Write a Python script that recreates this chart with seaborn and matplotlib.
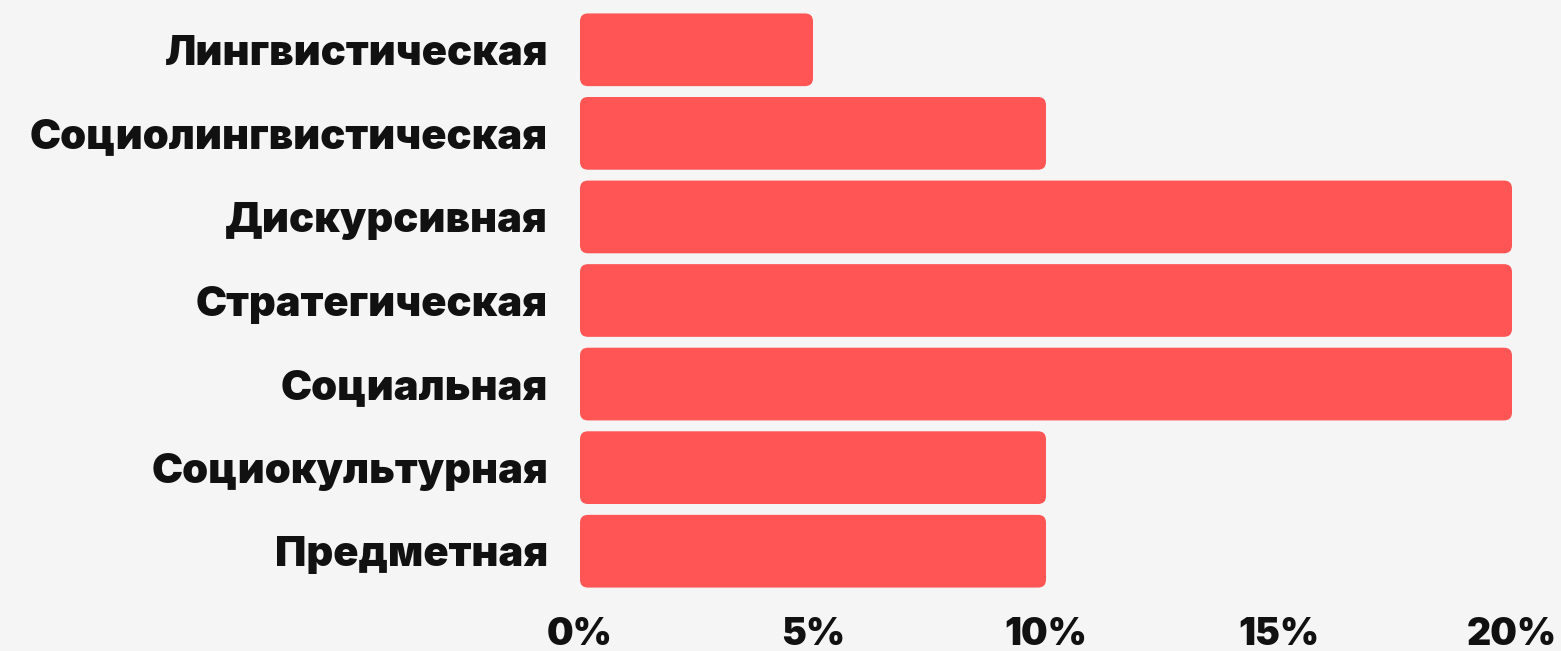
import matplotlib
matplotlib.use("Agg")
import matplotlib.pyplot as plt
import matplotlib.ticker as mticker
from matplotlib.patches import FancyBboxPatch
import seaborn as sns
import pandas as pd

categories = [
    "Лингвистическая",
    "Социолингвистическая",
    "Дискурсивная",
    "Стратегическая",
    "Социальная",
    "Социокультурная",
    "Предметная",
]
shares = [5, 10, 20, 20, 20, 10, 10]
x_ticks = [0, 5, 10, 15, 20]

df = pd.DataFrame({"competence": categories, "share": shares})

sns.set_theme(style="white")
plt.rcParams["font.family"] = ["Inter", "DejaVu Sans"]

bg = "#f5f5f5"
bar_color = "#ff5555"

fig = plt.figure(figsize=(15.61, 6.51), dpi=100, facecolor=bg)
ax = fig.add_axes([580 / 1561, 1 - 593 / 651, (1512 - 580) / 1561, (593 - 8) / 651])
ax.set_facecolor(bg)

sns.barplot(data=df, x="share", y="competence", color=bar_color,
            saturation=1, width=0.87, ax=ax)

# swap plain rectangles for rounded ones
for p in list(ax.patches):
    x0, y0, w, h = p.get_x(), p.get_y(), p.get_width(), p.get_height()
    p.remove()
    ax.add_patch(FancyBboxPatch((x0, y0), w, h,
                                boxstyle="round,pad=0,rounding_size=0.17",
                                mutation_aspect=0.56,
                                facecolor=bar_color, edgecolor="none"))

ax.set_xlim(0, 20)
ax.set_ylim(6.5, -0.5)
ax.set_xticks(x_ticks)
ax.xaxis.set_major_formatter(mticker.FuncFormatter(lambda v, _: f"{v:.0f}%"))
ax.set_xlabel("")
ax.set_ylabel("")
ax.tick_params(axis="both", length=0, colors="#111111")
ax.tick_params(axis="x", labelsize=27, pad=17)
ax.tick_params(axis="y", labelsize=30, pad=23)
for lbl in ax.get_xticklabels() + ax.get_yticklabels():
    lbl.set_fontweight("black")
sns.despine(ax=ax, left=True, bottom=True)

fig.savefig("out.png", dpi=100, facecolor=bg)
